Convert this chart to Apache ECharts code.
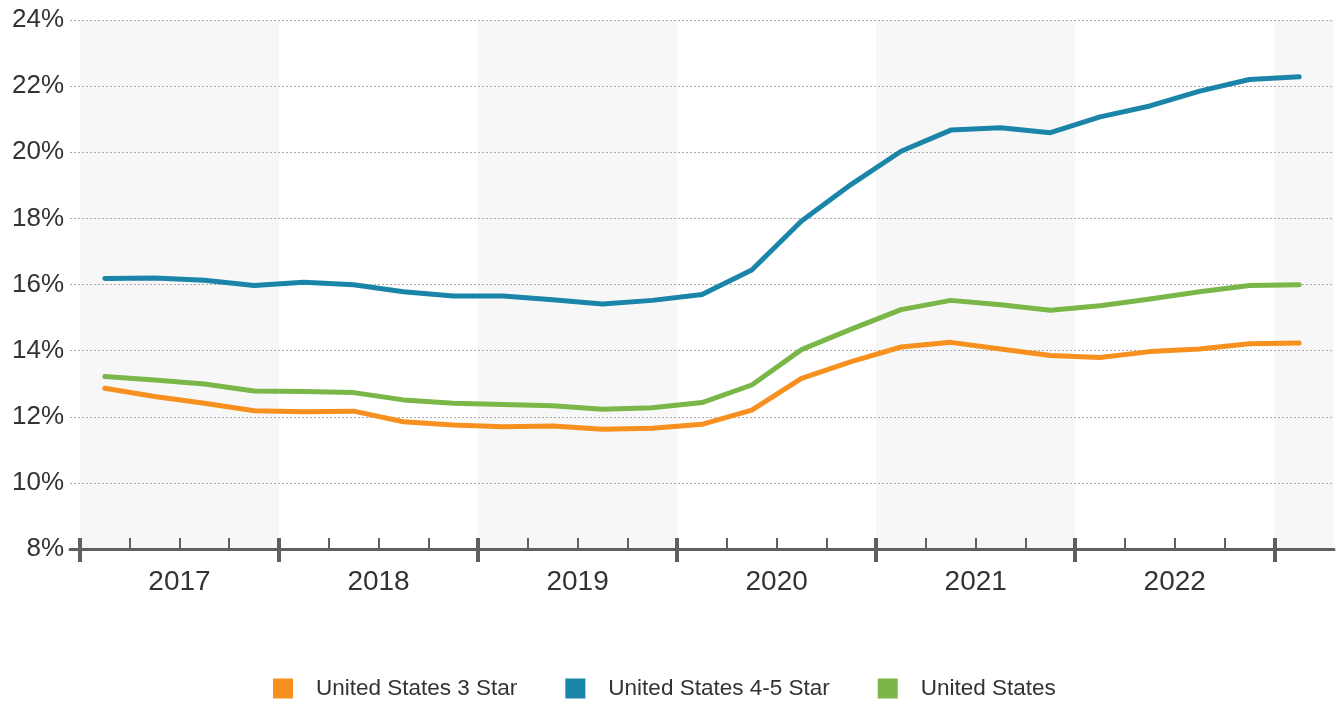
<!DOCTYPE html>
<html>
<head>
<meta charset="utf-8">
<script src="https://cdn.jsdelivr.net/npm/echarts@6/dist/echarts.min.js"></script>
<style>
html,body{margin:0;padding:0;background:#fff;}
#chart{width:1342px;height:704px;}
</style>
</head>
<body>
<div id="chart"></div>
<script>
// Quarterly data, 2017 Q1 .. 2023 Q1
const quarters = ['2017 Q1','2017 Q2','2017 Q3','2017 Q4','2018 Q1','2018 Q2','2018 Q3','2018 Q4',
  '2019 Q1','2019 Q2','2019 Q3','2019 Q4','2020 Q1','2020 Q2','2020 Q3','2020 Q4',
  '2021 Q1','2021 Q2','2021 Q3','2021 Q4','2022 Q1','2022 Q2','2022 Q3','2022 Q4','2023 Q1'];
const years = ['2017','2018','2019','2020','2021','2022'];
const yTicks = [8,10,12,14,16,18,20,22,24];
const star3 = [12.86,12.61,12.41,12.18,12.15,12.17,11.85,11.75,11.70,11.72,11.62,11.65,11.77,
  12.20,13.16,13.67,14.11,14.25,14.05,13.85,13.79,13.97,14.05,14.21,14.23];
const star45 = [16.18,16.20,16.13,15.97,16.07,15.99,15.78,15.65,15.65,15.54,15.41,15.52,15.70,
  16.44,17.92,19.03,20.03,20.67,20.74,20.59,21.07,21.40,21.85,22.20,22.28];
const us = [13.22,13.11,12.99,12.78,12.76,12.73,12.51,12.41,12.37,12.33,12.23,12.27,12.43,
  12.96,14.03,14.65,15.24,15.52,15.39,15.22,15.36,15.56,15.78,15.97,15.99];
const seriesNames = ['United States 3 Star','United States 4-5 Star','United States'];
const colors = ['#F7901E','#1A85A8','#7AB648'];

const toPairs = arr => arr.map((v, i) => [i + 0.5, v]);
const quarterIdx = quarters.map((q, i) => i);
const majorIdx = quarterIdx.filter(i => i % 4 === 0);
const yearCenters = years.map((y, k) => k * 4 + 2);
const bands = [];
for (let k = 0; k <= years.length; k += 2) {
  bands.push([{ xAxis: k * 4 }, { xAxis: Math.min(k * 4 + 4, quarters.length + 0.2) }]);
}

const FONT = '"Liberation Sans", Arial, sans-serif';
const AX = '#5f5f5f';
const xBase = { type: 'value', min: -0.2, max: quarters.length + 0.2, position: 'bottom', splitLine: { show: false } };

const chart = echarts.init(document.getElementById('chart'));
chart.setOption({
  animation: false,
  grid: { left: 70, right: 8, top: 20, bottom: 155, containLabel: false },
  legend: {
    left: 273, top: 677, padding: 0,
    icon: 'rect', itemWidth: 20, itemHeight: 20, itemGap: 48,
    textStyle: { fontFamily: FONT, fontSize: 22.5, lineHeight: 20, color: '#333', padding: [0, 0, 0, 18] },
    data: seriesNames
  },
  xAxis: [
    Object.assign({}, xBase, {
      axisLine: { show: true, lineStyle: { color: AX, width: 3 } },
      axisTick: { show: true, inside: true, length: 11, customValues: quarterIdx, lineStyle: { color: AX, width: 2 } },
      axisLabel: {
        show: true, customValues: yearCenters, margin: 19,
        fontFamily: FONT, fontSize: 28, color: '#333',
        formatter: v => years[Math.round((v - 2) / 4)] || ''
      }
    }),
    Object.assign({}, xBase, {
      axisLine: { show: false },
      axisTick: { show: true, inside: true, length: 11, customValues: majorIdx, lineStyle: { color: AX, width: 4 } },
      axisLabel: { show: false }
    }),
    Object.assign({}, xBase, {
      axisLine: { show: false },
      axisTick: { show: true, inside: false, length: 13, customValues: majorIdx, lineStyle: { color: AX, width: 4 } },
      axisLabel: { show: false }
    })
  ],
  yAxis: {
    type: 'value', min: yTicks[0], max: yTicks[yTicks.length - 1], interval: 2,
    axisLine: { show: false }, axisTick: { show: false },
    axisLabel: { formatter: '{value}%', fontFamily: FONT, fontSize: 26, color: '#333', margin: 6 },
    splitLine: { show: true, lineStyle: { color: '#aaa', width: 1, type: [2, 2] } }
  },
  series: [
    {
      name: '_bands', type: 'line', data: [], xAxisIndex: 0, silent: true,
      markArea: { silent: true, z: -1, itemStyle: { color: '#f7f7f7' }, data: bands }
    }
  ].concat([star3, star45, us].map((arr, s) => ({
    name: seriesNames[s], type: 'line', xAxisIndex: 0,
    data: toPairs(arr), showSymbol: false, symbol: 'none',
    lineStyle: { color: colors[s], width: 5, cap: 'round', join: 'round' },
    itemStyle: { color: colors[s] }
  })))
});
</script>
</body>
</html>
